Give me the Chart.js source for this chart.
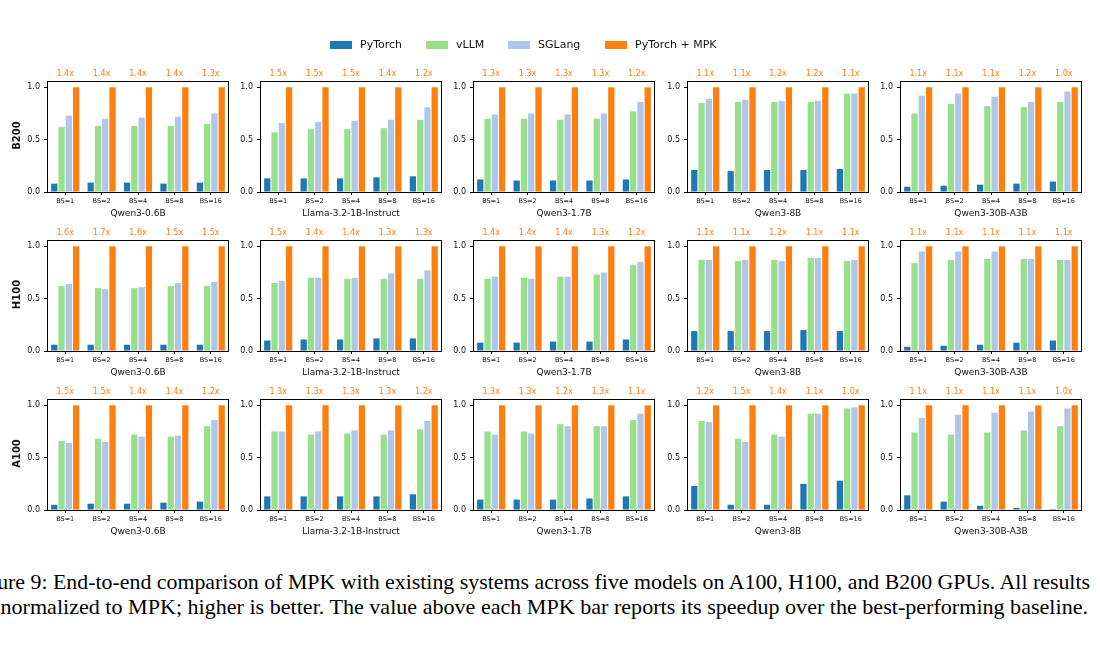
<!DOCTYPE html>
<html>
<head>
<meta charset="utf-8">
<script src="https://cdn.jsdelivr.net/npm/chart.js@4.4.0/dist/chart.umd.min.js"></script>
<style>
  body { margin: 0; width: 1100px; height: 650px; background: #fff; position: relative; overflow: hidden; font-family: "DejaVu Sans", sans-serif; color: #111; }
  canvas.panel { position: absolute; }
  .rowlabel { position: absolute; width: 60px; text-align: center; font-weight: bold; font-size: 10px; transform: rotate(-90deg); }
  .legend-item { position: absolute; top: 38px; font-size: 11px; line-height: 14px; display: flex; align-items: center; }
  .legend-item span.box { display: inline-block; width: 22px; height: 8px; margin-right: 8px; }
  .capline { position: absolute; left: -32px; font-family: "Liberation Serif", serif; font-size: 22px; line-height: 25px; white-space: nowrap; transform-origin: 0 0; color: #000; }
</style>
</head>
<body>
<div id="root"></div>
<script>
// categories
const models = ["Qwen3-0.6B", "Llama-3.2-1B-Instruct", "Qwen3-1.7B", "Qwen3-8B", "Qwen3-30B-A3B"];
const gpus = ["B200", "H100", "A100"];
const batchSizes = ["BS=1", "BS=2", "BS=4", "BS=8", "BS=16"];
const seriesNames = ["PyTorch", "vLLM", "SGLang", "PyTorch + MPK"];
const seriesColors = ["#1f77b4", "#98df8a", "#aec7e8", "#ff7f0e"];
const yTicks = [0, 0.5, 1.0];

// MPK is the normalization base
const mpk = [1, 1, 1, 1, 1];

// B200 (one row per model, one value per batch size)
const pytorchB200 = [
  [0.08, 0.09, 0.09, 0.08, 0.09],
  [0.13, 0.13, 0.13, 0.14, 0.15],
  [0.12, 0.11, 0.11, 0.11, 0.12],
  [0.21, 0.20, 0.21, 0.21, 0.22],
  [0.05, 0.06, 0.07, 0.08, 0.10]
];
const vllmB200 = [
  [0.62, 0.63, 0.63, 0.63, 0.65],
  [0.57, 0.60, 0.60, 0.61, 0.69],
  [0.70, 0.70, 0.69, 0.70, 0.77],
  [0.85, 0.86, 0.86, 0.86, 0.94],
  [0.75, 0.84, 0.82, 0.81, 0.86]
];
const sglangB200 = [
  [0.73, 0.70, 0.71, 0.72, 0.75],
  [0.66, 0.67, 0.68, 0.69, 0.81],
  [0.74, 0.75, 0.74, 0.75, 0.86],
  [0.89, 0.88, 0.87, 0.87, 0.94],
  [0.92, 0.94, 0.91, 0.86, 0.96]
];
const speedupB200 = [
  [1.4, 1.4, 1.4, 1.4, 1.3],
  [1.5, 1.5, 1.5, 1.4, 1.2],
  [1.3, 1.3, 1.3, 1.3, 1.2],
  [1.1, 1.1, 1.2, 1.2, 1.1],
  [1.1, 1.1, 1.1, 1.2, 1.0]
];

// H100
const pytorchH100 = [
  [0.06, 0.06, 0.06, 0.06, 0.06],
  [0.10, 0.11, 0.11, 0.12, 0.12],
  [0.08, 0.08, 0.09, 0.09, 0.11],
  [0.19, 0.19, 0.19, 0.20, 0.19],
  [0.04, 0.05, 0.06, 0.08, 0.10]
];
const vllmH100 = [
  [0.62, 0.60, 0.60, 0.62, 0.62],
  [0.65, 0.70, 0.69, 0.69, 0.69],
  [0.69, 0.70, 0.71, 0.73, 0.82],
  [0.87, 0.86, 0.87, 0.89, 0.86],
  [0.84, 0.87, 0.88, 0.88, 0.87]
];
const sglangH100 = [
  [0.64, 0.59, 0.61, 0.65, 0.66],
  [0.67, 0.70, 0.70, 0.74, 0.77],
  [0.71, 0.69, 0.71, 0.75, 0.85],
  [0.87, 0.87, 0.86, 0.89, 0.87],
  [0.95, 0.95, 0.95, 0.88, 0.87]
];
const speedupH100 = [
  [1.6, 1.7, 1.6, 1.5, 1.5],
  [1.5, 1.4, 1.4, 1.3, 1.3],
  [1.4, 1.4, 1.4, 1.3, 1.2],
  [1.1, 1.1, 1.2, 1.1, 1.1],
  [1.1, 1.1, 1.1, 1.1, 1.1]
];

// A100
const pytorchA100 = [
  [0.05, 0.06, 0.06, 0.07, 0.08],
  [0.13, 0.13, 0.13, 0.13, 0.15],
  [0.10, 0.10, 0.10, 0.11, 0.13],
  [0.23, 0.05, 0.05, 0.25, 0.28],
  [0.14, 0.08, 0.04, 0.02, 0.01]
];
const vllmA100 = [
  [0.66, 0.68, 0.72, 0.70, 0.80],
  [0.75, 0.72, 0.73, 0.72, 0.77],
  [0.75, 0.75, 0.82, 0.80, 0.86],
  [0.85, 0.68, 0.72, 0.92, 0.97],
  [0.74, 0.72, 0.74, 0.76, 0.80]
];
const sglangA100 = [
  [0.64, 0.65, 0.70, 0.71, 0.86],
  [0.75, 0.75, 0.76, 0.76, 0.85],
  [0.72, 0.73, 0.80, 0.80, 0.92],
  [0.84, 0.65, 0.70, 0.92, 0.98],
  [0.88, 0.91, 0.93, 0.94, 0.97]
];
const speedupA100 = [
  [1.5, 1.5, 1.4, 1.4, 1.2],
  [1.3, 1.3, 1.3, 1.3, 1.2],
  [1.3, 1.3, 1.2, 1.3, 1.1],
  [1.2, 1.5, 1.4, 1.1, 1.0],
  [1.1, 1.1, 1.1, 1.1, 1.0]
];

const gpuData = {
  B200: [pytorchB200, vllmB200, sglangB200, speedupB200],
  H100: [pytorchH100, vllmH100, sglangH100, speedupH100],
  A100: [pytorchA100, vllmA100, sglangA100, speedupA100]
};

// layout of the grid (plot area of each panel)
const colLeft = [47, 260, 473, 687, 900];
const rowTop = [81, 240, 399];
const plotW = 182, plotH = 111;
const padL = 30, padT = 22, padR = 4, padB = 40;

// full box around each plot area, like matplotlib spines
const framePlugin = {
  id: "frame",
  afterDatasetsDraw(chart) {
    const a = chart.chartArea, ctx = chart.ctx;
    ctx.save();
    ctx.strokeStyle = "#000";
    ctx.lineWidth = 1;
    ctx.strokeRect(Math.round(a.left) + 0.5, Math.round(a.top) + 0.5, Math.round(a.right - a.left) - 1, Math.round(a.bottom - a.top));
    ctx.restore();
  }
};

// orange speedup numbers above each group
const speedupPlugin = {
  id: "speedup",
  afterDraw(chart, args, opts) {
    const ctx = chart.ctx, x = chart.scales.x;
    ctx.save();
    ctx.fillStyle = "#ff7f0e";
    ctx.font = "8px 'DejaVu Sans'";
    ctx.textAlign = "center";
    ctx.textBaseline = "middle";
    opts.values.forEach((v, i) => {
      ctx.fillText(v.toFixed(1) + "x", x.getPixelForValue(i), chart.chartArea.top - 7);
    });
    ctx.restore();
  }
};

function makePanel(r, c) {
  const gpu = gpus[r];
  const [pt, vl, sg, sp] = gpuData[gpu];
  const canvas = document.createElement("canvas");
  canvas.className = "panel";
  canvas.width = padL + plotW + padR;
  canvas.height = padT + plotH + padB;
  canvas.style.left = (colLeft[c] - padL) + "px";
  canvas.style.top = (rowTop[r] - padT) + "px";
  document.getElementById("root").appendChild(canvas);

  const values = [pt[c], vl[c], sg[c], mpk];
  const datasets = values.map((d, i) => ({
    label: seriesNames[i],
    data: d,
    backgroundColor: seriesColors[i],
    borderWidth: 0,
    categoryPercentage: 0.8,
    barPercentage: 0.86
  }));

  new Chart(canvas, {
    type: "bar",
    data: { labels: batchSizes, datasets: datasets },
    plugins: [framePlugin, speedupPlugin],
    options: {
      responsive: false,
      animation: false,
      devicePixelRatio: 1,
      layout: { padding: { top: padT, right: padR, left: 0, bottom: 0 } },
      plugins: {
        legend: { display: false },
        tooltip: { enabled: false },
        speedup: { values: sp[c] }
      },
      scales: {
        x: {
          grid: { display: true, drawOnChartArea: false, offset: false, tickLength: 3, color: "#000" },
          border: { display: false },
          ticks: { font: { size: 6.5, family: "DejaVu Sans" }, color: "#111", padding: 2, maxRotation: 0, autoSkip: false },
          title: { display: true, text: models[c], font: { size: 9, family: "DejaVu Sans" }, color: "#111", padding: { top: 0, bottom: 12.6 } },
          afterFit(scale) { scale.height = padB; }
        },
        y: {
          min: 0,
          max: 1.06,
          grid: { display: true, drawOnChartArea: false, tickLength: 3, color: "#000" },
          border: { display: false },
          afterBuildTicks(scale) { scale.ticks = yTicks.map(v => ({ value: v })); },
          ticks: {
            font: { size: 8, family: "DejaVu Sans" },
            color: "#111",
            padding: 4,
            callback: v => v.toFixed(1)
          },
          afterFit(scale) { scale.width = padL; }
        }
      }
    }
  });
}

for (let r = 0; r < gpus.length; r++) {
  for (let c = 0; c < models.length; c++) makePanel(r, c);
  const lab = document.createElement("div");
  lab.className = "rowlabel";
  lab.textContent = gpus[r];
  lab.style.left = (16 - 30) + "px";
  lab.style.top = (rowTop[r] + plotH / 2 - 7) + "px";
  document.body.appendChild(lab);
}

// legend row on top
const legendX = [330, 426, 508, 605];
seriesNames.forEach((name, i) => {
  const item = document.createElement("div");
  item.className = "legend-item";
  item.style.left = legendX[i] + "px";
  item.innerHTML = '<span class="box" style="background:' + seriesColors[i] + '"></span>' + name;
  document.body.appendChild(item);
});

// figure caption, two lines squeezed to the same width (cut at the page edges as in the source)
const captionLines = [
  "Figure 9: End-to-end comparison of MPK with existing systems across five models on A100, H100, and B200 GPUs. All results",
  "are normalized to MPK; higher is better. The value above each MPK bar reports its speedup over the best-performing baseline."
];
const captionTop = [569, 594];
const captionWidth = [1122, 1120];
captionLines.forEach((text, i) => {
  const line = document.createElement("div");
  line.className = "capline";
  line.textContent = text;
  line.style.top = captionTop[i] + "px";
  document.body.appendChild(line);
  const w = line.getBoundingClientRect().width;
  line.style.transform = "scaleX(" + (captionWidth[i] / w) + ")";
});
</script>
</body>
</html>
